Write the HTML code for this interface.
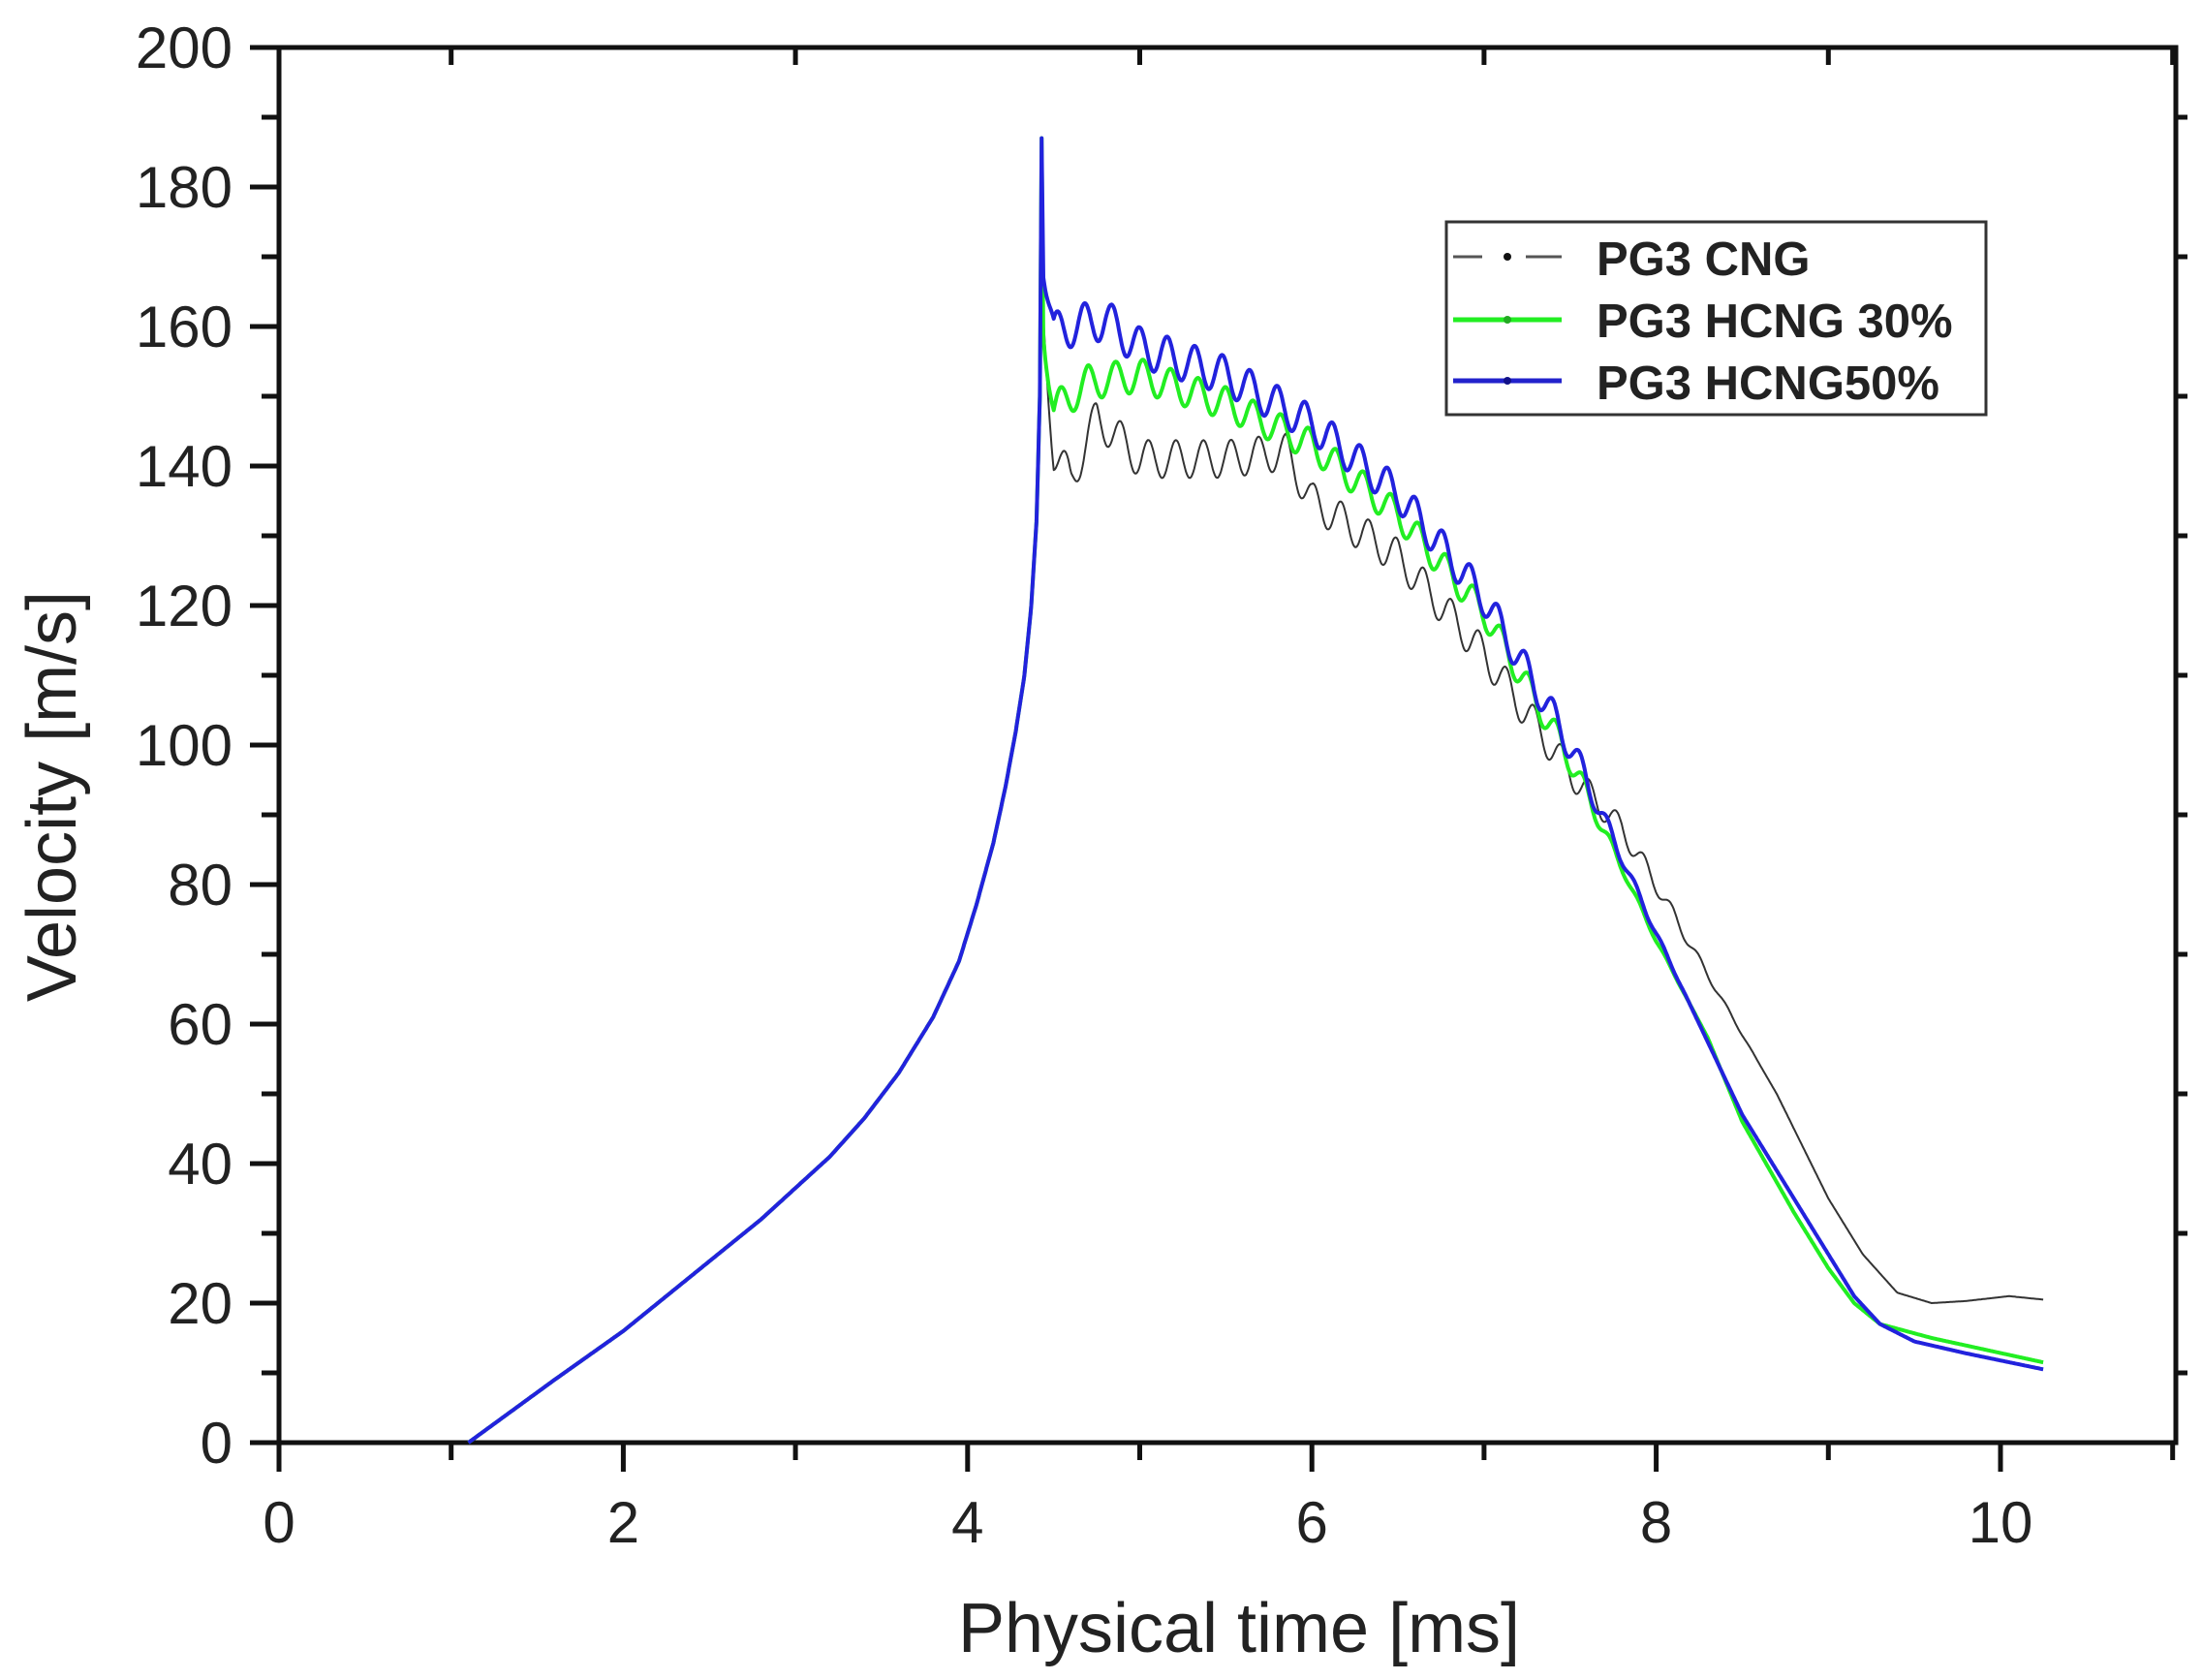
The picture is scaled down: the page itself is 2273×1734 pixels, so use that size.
<!DOCTYPE html>
<html><head><meta charset="utf-8"><style>
html,body{margin:0;padding:0;background:#fff;}
svg{display:block;}
text{font-family:"Liberation Sans",Arial,sans-serif;fill:#222;}
</style></head><body>
<svg id="s" width="2273" height="1734" viewBox="0 0 2273 1734" xmlns="http://www.w3.org/2000/svg">
<rect width="2273" height="1734" fill="#fff"/>
<g id="ax" stroke="#111" stroke-width="5" fill="none"></g>
<g id="lbl" font-size="60"></g>
<text x="1279" y="1705" font-size="72" text-anchor="middle">Physical time [ms]</text>
<text transform="translate(78,822) rotate(-90)" font-size="72" text-anchor="middle">Velocity [m/s]</text>
<g id="curves" fill="none" stroke-linejoin="round"></g>
<rect x="1493" y="229" width="557" height="199" fill="#fff" stroke="#333" stroke-width="3"/>
<line x1="1500" y1="265" x2="1530" y2="265" stroke="#555" stroke-width="3"/>
<circle cx="1556" cy="265" r="4" fill="#111"/>
<line x1="1575" y1="265" x2="1612" y2="265" stroke="#555" stroke-width="3"/>
<line x1="1500" y1="330" x2="1612" y2="330" stroke="#22ee22" stroke-width="5"/>
<circle cx="1556" cy="330" r="4" fill="#22aa22"/>
<line x1="1500" y1="393" x2="1612" y2="393" stroke="#2222cc" stroke-width="5"/>
<circle cx="1556" cy="393" r="4" fill="#111188"/>
<g font-size="49" font-weight="bold">
<text x="1648" y="284">PG3 CNG</text>
<text x="1648" y="348">PG3 HCNG 30%</text>
<text x="1648" y="412">PG3 HCNG50%</text>
</g>
</svg>
<script>
var X=function(t){return 288+177.7*t;},Y=function(v){return 1489-7.2*v;};
var ax=document.getElementById('ax'),lb=document.getElementById('lbl'),NS='http://www.w3.org/2000/svg';
function el(p,tag,a,txt){var e=document.createElementNS(NS,tag);for(var k in a)e.setAttribute(k,a[k]);if(txt!=null)e.textContent=txt;p.appendChild(e);return e;}
el(ax,'rect',{x:288,y:49,width:1958,height:1440});
for(var t=0;t<=11;t++){var x=X(t),big=t%2==0;
 el(ax,'line',{x1:x,y1:1489,x2:x,y2:1489+(big?30:18)});
 el(ax,'line',{x1:x,y1:49,x2:x,y2:49+(big?0:18)});
 if(big)el(lb,'text',{x:x,y:1592,'text-anchor':'middle'},String(t));}
for(var v=0;v<=200;v+=10){var y=Y(v),big=v%20==0;
 el(ax,'line',{x1:288,y1:y,x2:288-(big?30:18),y2:y});
 el(ax,'line',{x1:2246,y1:y,x2:2246+(big?0:12),y2:y});
 if(big)el(lb,'text',{x:240,y:y+21,'text-anchor':'end'},String(v));}
function interp(pts,t){for(var i=1;i<pts.length;i++){if(t<=pts[i][0]){var a=pts[i-1],b=pts[i];return a[1]+(b[1]-a[1])*(t-a[0])/(b[0]-a[0]);}}return pts[pts.length-1][1];}
var rise=[[1.1,0],[1.6,9],[2,16],[2.5,26],[2.8,32],[3,36.5],[3.2,41],[3.4,46.5],[3.6,53],[3.8,61],[3.95,69],[4.05,77],[4.15,86],[4.22,94],[4.28,102],[4.33,110],[4.37,120],[4.4,132],[4.42,150],[4.43,187]];
function build(post,amp,ph){var d='';
 for(var t=1.1;t<=4.43;t+=0.005){d+=(d?'L':'M')+X(t).toFixed(1)+' '+Y(interp(rise,t)).toFixed(1);}
 d+='L'+X(4.43).toFixed(1)+' '+Y(187).toFixed(1);
 for(var t=4.44;t<=10.25;t+=0.006){var v=interp(post,t)+interp(amp,t)*Math.sin(2*Math.PI*(t-ph)/0.16);d+='L'+X(t).toFixed(1)+' '+Y(v).toFixed(1);}
 return d;}
var blue=[[4.44,170],[4.5,159],[4.6,160],[4.8,161],[5,157],[5.5,153],[6,146],[6.5,136],[7,121],[7.5,100],[8,73],[8.5,47],[8.8,35],[9,27],[9.15,21],[9.3,17],[9.5,14.5],[9.8,12.8],[10.25,10.5]];
var green=[[4.44,160],[4.5,148],[4.7,152],[5,153],[5.5,149],[6,143],[6.5,133],[7,119],[7.5,98],[8,72],[8.3,58],[8.5,46],[8.8,33],[9,25],[9.15,20],[9.3,17],[9.6,15],[10.25,11.5]];
var black=[[4.44,160],[4.5,142],[4.6,138],[4.75,147],[5,141],[5.5,141],[5.85,142],[6,135],[6.5,127],[7,113],[7.5,96],[7.8,88],[8,80],[8.3,67],[8.7,50],[9,35],[9.2,27],[9.4,21.5],[9.6,20],[9.8,20.3],[10.05,21],[10.25,20.5]];
var bA=[[4.44,3],[7.5,2.3],[7.8,0.8],[8.2,0],[10.3,0]],gA=[[4.44,2.5],[7.5,2],[7.8,0.5],[8.2,0],[10.3,0]],kA=[[4.44,2.8],[7.3,2.5],[7.9,1.5],[8.3,0.5],[8.6,0],[10.3,0]];
var c=document.getElementById('curves');
el(c,'path',{d:build(black,kA,0.05),stroke:'#333','stroke-width':2});
el(c,'path',{d:build(green,gA,0.02),stroke:'#22ee22','stroke-width':4});
el(c,'path',{d:build(blue,bA,0),stroke:'#2222dd','stroke-width':4});
</script>
</body></html>
